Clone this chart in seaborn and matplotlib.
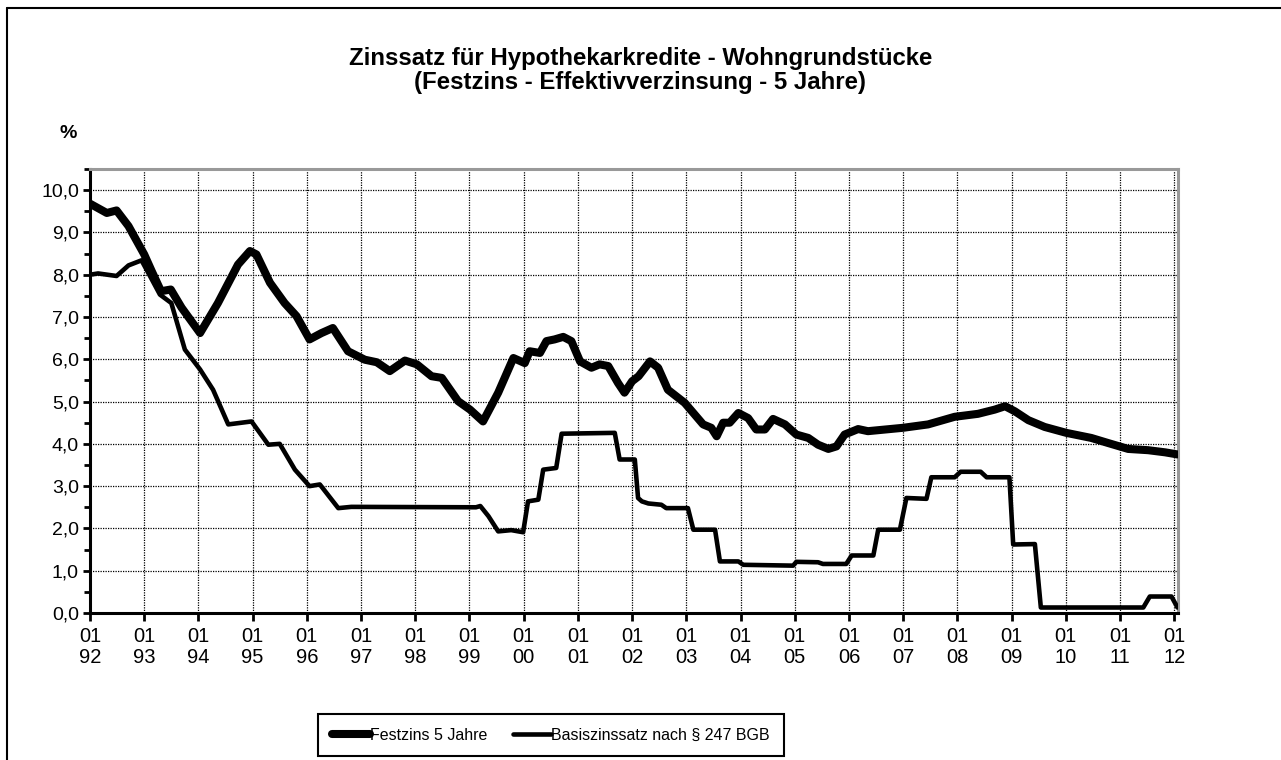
import numpy as np
import pandas as pd
import matplotlib
matplotlib.use("Agg")
import matplotlib.pyplot as plt
from matplotlib.lines import Line2D
from matplotlib.ticker import MultipleLocator, FixedLocator, FuncFormatter
import seaborn as sns

# Festzins 5 Jahre (effective rate, %), time as decimal year
fest_t = [1992.00, 1992.31, 1992.49, 1992.71, 1993.00, 1993.14, 1993.31, 1993.49, 1993.69,
          1994.03, 1994.36, 1994.73, 1994.95, 1995.07, 1995.32, 1995.59, 1995.81, 1996.05,
          1996.27, 1996.48, 1996.76, 1997.07, 1997.29, 1997.53, 1997.81, 1998.03, 1998.30,
          1998.49, 1998.79, 1999.01, 1999.25, 1999.53, 1999.81, 2000.02, 2000.11, 2000.30,
          2000.42, 2000.57, 2000.73, 2000.88, 2001.04, 2001.25, 2001.40, 2001.56, 2001.74,
          2001.86, 2002.00, 2002.12, 2002.33, 2002.48, 2002.66, 2002.97, 2003.13, 2003.31,
          2003.46, 2003.56, 2003.68, 2003.80, 2003.96, 2004.14, 2004.29, 2004.45, 2004.60,
          2004.82, 2005.03, 2005.25, 2005.43, 2005.62, 2005.77, 2005.92, 2006.17, 2006.35,
          2007.00, 2007.46, 2007.95, 2008.38, 2008.69, 2008.88, 2009.06, 2009.31, 2009.61,
          2010.01, 2010.47, 2010.78, 2011.15, 2011.52, 2011.83, 2012.06]
fest_v = [9.68, 9.46, 9.52, 9.15, 8.48, 8.08, 7.61, 7.65, 7.22,
          6.62, 7.33, 8.24, 8.56, 8.48, 7.81, 7.33, 7.02, 6.47,
          6.62, 6.74, 6.19, 5.99, 5.93, 5.72, 5.97, 5.88, 5.60,
          5.56, 5.01, 4.81, 4.53, 5.21, 6.03, 5.91, 6.19, 6.15,
          6.43, 6.47, 6.53, 6.43, 5.95, 5.80, 5.88, 5.84, 5.44,
          5.21, 5.48, 5.60, 5.95, 5.80, 5.28, 4.97, 4.73, 4.46,
          4.38, 4.18, 4.50, 4.50, 4.73, 4.61, 4.34, 4.34, 4.59,
          4.46, 4.22, 4.14, 3.98, 3.88, 3.94, 4.22, 4.35, 4.30,
          4.38, 4.46, 4.64, 4.71, 4.81, 4.89, 4.77, 4.56, 4.40,
          4.26, 4.14, 4.02, 3.88, 3.85, 3.80, 3.75]

# Basiszinssatz nach § 247 BGB (%), time as decimal year
basis_t = [1992.00, 1992.15, 1992.49, 1992.71, 1992.95, 1993.14, 1993.29, 1993.50, 1993.75,
           1994.03, 1994.27, 1994.55, 1994.98, 1995.29, 1995.50, 1995.78, 1996.05, 1996.24,
           1996.58, 1996.82, 1999.12, 1999.20, 1999.35, 1999.53, 1999.77, 1999.99, 2000.08,
           2000.27, 2000.36, 2000.60, 2000.70, 2001.68, 2001.77, 2002.05, 2002.11, 2002.18,
           2002.30, 2002.54, 2002.63, 2003.03, 2003.13, 2003.53, 2003.62, 2003.96, 2004.05,
           2004.97, 2005.03, 2005.43, 2005.52, 2005.95, 2006.05, 2006.45, 2006.54, 2006.94,
           2007.06, 2007.43, 2007.52, 2007.95, 2008.06, 2008.43, 2008.54, 2008.96, 2009.03,
           2009.43, 2009.54, 2011.43, 2011.55, 2011.95, 2012.06]
basis_v = [8.00, 8.03, 7.97, 8.22, 8.34, 7.89, 7.53, 7.33, 6.23,
           5.76, 5.28, 4.46, 4.53, 3.98, 4.00, 3.39, 3.00, 3.04,
           2.48, 2.51, 2.50, 2.53, 2.29, 1.93, 1.96, 1.91, 2.64,
           2.68, 3.39, 3.43, 4.24, 4.26, 3.63, 3.63, 2.72, 2.64,
           2.59, 2.56, 2.48, 2.48, 1.97, 1.97, 1.22, 1.22, 1.14,
           1.12, 1.21, 1.20, 1.16, 1.16, 1.36, 1.36, 1.97, 1.97,
           2.72, 2.70, 3.21, 3.21, 3.34, 3.34, 3.21, 3.21, 1.62,
           1.63, 0.13, 0.13, 0.39, 0.39, 0.13]

years = list(range(1992, 2013))
year_labels = [f"01\n{y % 100:02d}" for y in years]

title_1 = "Zinssatz für Hypothekarkredite - Wohngrundstücke"
title_2 = "(Festzins - Effektivverzinsung - 5 Jahre)"
label_fest = "Festzins 5 Jahre"
label_basis = "Basiszinssatz nach § 247 BGB"

sns.set_theme(style="white")
plt.rcParams["font.family"] = ["Liberation Sans", "DejaVu Sans"]
plt.rcParams["text.color"] = "black"
plt.rcParams["xtick.color"] = "black"
plt.rcParams["ytick.color"] = "black"
plt.rcParams["axes.labelcolor"] = "black"

W, H = 1281, 760
fig = plt.figure(figsize=(W / 100, H / 100), dpi=100)
ax = fig.add_axes([90 / W, 1 - 613 / H, (1178 - 90) / W, (613 - 169) / H])

fest_df = pd.DataFrame({"t": fest_t, "v": fest_v})
basis_df = pd.DataFrame({"t": basis_t, "v": basis_v})

sns.lineplot(data=fest_df, x="t", y="v", ax=ax, color="black", linewidth=5.8,
             estimator=None, sort=False, label=label_fest,
             solid_joinstyle="round", solid_capstyle="round", zorder=4)
sns.lineplot(data=basis_df, x="t", y="v", ax=ax, color="black", linewidth=3.3,
             estimator=None, sort=False, label=label_basis,
             solid_joinstyle="round", solid_capstyle="round", zorder=3)

ax.set_xlim(1992.0, 2012.07)
ax.set_ylim(0, 10.5)
ax.set_xlabel("")
ax.set_ylabel("")

ax.xaxis.set_major_locator(FixedLocator(years))
ax.set_xticklabels(year_labels)
ax.yaxis.set_major_locator(MultipleLocator(1.0))
ax.yaxis.set_minor_locator(MultipleLocator(0.5))
ax.yaxis.set_major_formatter(FuncFormatter(lambda v, p: f"{v:.1f}".replace(".", ",")))

ax.tick_params(axis="x", which="major", direction="out", length=6, width=2,
               color="black", labelcolor="black", labelsize=14.5, pad=4, bottom=True)
ax.tick_params(axis="y", which="major", direction="out", length=5, width=2,
               color="black", labelcolor="black", labelsize=14, pad=3, left=True)
ax.tick_params(axis="y", which="minor", direction="out", length=4, width=2,
               color="black", left=True)
for lab in ax.get_xticklabels():
    lab.set_linespacing(1.15)

ax.grid(True, which="major", axis="both", color="black", linestyle=(0, (1, 1)),
        linewidth=0.9)
ax.set_axisbelow(True)

for side in ("left", "bottom"):
    ax.spines[side].set_color("black")
    ax.spines[side].set_linewidth(2.2)
for side in ("top", "right"):
    ax.spines[side].set_color("#999999")
    ax.spines[side].set_linewidth(2.2)
    ax.spines[side].set_visible(True)

leg = ax.legend(loc="center", bbox_to_anchor=(551 / W, 1 - 735 / H),
                bbox_transform=fig.transFigure, ncol=2, frameon=True,
                fancybox=False, framealpha=1, edgecolor="black",
                fontsize=11.5, handlelength=2.4, handletextpad=0.0,
                columnspacing=1.6, borderpad=0.85, borderaxespad=0)
leg.get_frame().set_linewidth(1.5)
for txt in leg.get_texts():
    txt.set_color("black")

fig.text(0.5, 1 - 58 / H, title_1, ha="center", va="center",
         fontsize=17.3, fontweight="bold")
fig.text(0.5, 1 - 82 / H, title_2, ha="center", va="center",
         fontsize=17.3, fontweight="bold")
fig.text(68 / W, 1 - 133 / H, "%", ha="center", va="center",
         fontsize=14, fontweight="bold")

# outer frame (left and top edges of the chart area)
fig.add_artist(Line2D([7 / W, 7 / W], [0, 1 - 8 / H], color="black",
                      linewidth=1.5, transform=fig.transFigure))
fig.add_artist(Line2D([7 / W, 1], [1 - 8 / H, 1 - 8 / H], color="black",
                      linewidth=1.5, transform=fig.transFigure))

fig.savefig("out.png", dpi=100)
